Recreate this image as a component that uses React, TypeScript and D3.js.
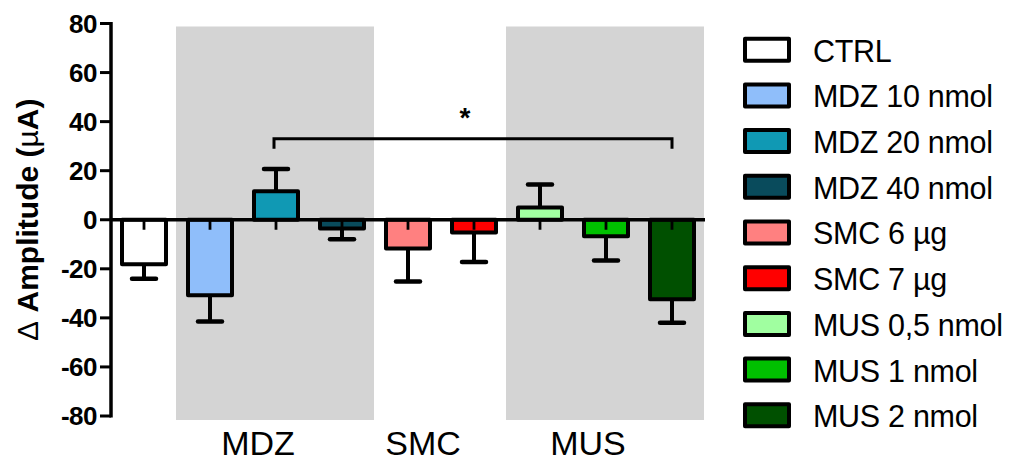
import React from "react";
import * as d3 from "d3";

const treatments = [
  "CTRL",
  "MDZ 10 nmol",
  "MDZ 20 nmol",
  "MDZ 40 nmol",
  "SMC 6 µg",
  "SMC 7 µg",
  "MUS 0,5 nmol",
  "MUS 1 nmol",
  "MUS 2 nmol",
];
const means = [-18.1, -30.8, 11.6, -3.6, -11.7, -5.2, 5.0, -6.7, -32.4];
const sems = [6.0, 10.7, 9.1, 4.3, 13.5, 12.0, 9.4, 9.9, 9.6];
const fills = [
  "#ffffff",
  "#8fbefa",
  "#1099b4",
  "#094b5c",
  "#ff8080",
  "#ff0000",
  "#a0ffa0",
  "#00c000",
  "#005000",
];
const legendLabels = [
  "CTRL",
  "MDZ 10 nmol",
  "MDZ 20 nmol",
  "MDZ 40 nmol",
  "SMC 6 \u00b5g",
  "SMC 7 \u00b5g",
  "MUS 0,5 nmol",
  "MUS 1 nmol",
  "MUS 2 nmol",
];
const groups = [
  { name: "MDZ", first: 1, last: 3, shaded: true },
  { name: "SMC", first: 4, last: 5, shaded: false },
  { name: "MUS", first: 6, last: 8, shaded: true },
];
const yTicks = [80, 60, 40, 20, 0, -20, -40, -60, -80];
const comparison = { from: 2, to: 8, label: "*", level: 33 };

const FONT = "Liberation Sans, Arial, Helvetica, sans-serif";

export default function App() {
  const W = 1016;
  const H = 467;
  const x = d3
    .scaleBand<number>()
    .domain(d3.range(treatments.length))
    .range([111, 705])
    .paddingInner(1 / 3)
    .paddingOuter(1 / 6);
  const y = d3.scaleLinear().domain([-80, 80]).range([416, 23.5]);
  const step = x.step();
  const bw = x.bandwidth();
  const cx = (i: number) => (x(i) as number) + bw / 2;
  const stepStart = (i: number) => 111 + step * i;
  const y0 = y(0);

  const bx1 = cx(comparison.from) - 2;
  const bx2 = cx(comparison.to);
  const by = y(comparison.level);

  return (
    <svg
      width={W}
      height={H}
      style={{ position: "absolute", left: 0, top: 0, background: "#fff" }}
      fontFamily={FONT}
    >
      {/* shaded group backgrounds */}
      {groups
        .filter((g) => g.shaded)
        .map((g) => (
          <rect
            key={g.name}
            x={stepStart(g.first) - 1}
            y={y(80) + 3}
            width={stepStart(g.last + 1) - stepStart(g.first)}
            height={y(-80) - y(80) + 1}
            fill="#d4d4d4"
          />
        ))}

      {/* bars */}
      {means.map((m, i) => {
        const top = Math.min(y(m), y0);
        const h = Math.abs(y(m) - y0);
        return (
          <rect
            key={"bar" + i}
            x={x(i) as number}
            y={top}
            width={bw}
            height={h}
            fill={fills[i]}
            stroke="#000"
            strokeWidth={4}
            strokeLinejoin="round"
          />
        );
      })}

      {/* error bars */}
      {means.map((m, i) => {
        const end = m >= 0 ? m + sems[i] : m - sems[i];
        const c = cx(i);
        return (
          <g key={"err" + i} stroke="#000">
            <line x1={c} x2={c} y1={y(m)} y2={y(end)} strokeWidth={4} />
            <line
              x1={c - 12}
              x2={c + 12}
              y1={y(end)}
              y2={y(end)}
              strokeWidth={4.5}
              strokeLinecap="round"
            />
            <line x1={c} x2={c} y1={y0} y2={y0 + 10} strokeWidth={2.8} />
          </g>
        );
      })}

      {/* zero line */}
      <line x1={111} x2={705} y1={y0} y2={y0} stroke="#000" strokeWidth={3.5} />

      {/* y axis */}
      <line x1={111} x2={111} y1={y(80) - 1.5} y2={y(-80) + 1.5} stroke="#000" strokeWidth={3.5} />
      {yTicks.map((t) => (
        <g key={"t" + t}>
          <line x1={100} x2={111} y1={y(t)} y2={y(t)} stroke="#000" strokeWidth={3} />
          <text
            x={97}
            y={y(t)}
            dy="0.36em"
            textAnchor="end"
            fontSize={26}
            fontWeight="bold"
            fill="#000"
            letterSpacing={-0.5}
          >
            {t}
          </text>
        </g>
      ))}

      {/* y axis title */}
      <text
        transform={`translate(38,${y(0)}) rotate(-90)`}
        textAnchor="middle"
        fontSize={30}
        fontWeight="bold"
        fill="#000"
      >
        <tspan fontWeight="normal">{"\u0394"}</tspan>
        {" Amplitude ("}
        <tspan fontWeight="normal">{"\u00b5"}</tspan>
        {"A)"}
      </text>

      {/* group labels */}
      {groups.map((g) => (
        <text
          key={"gl" + g.name}
          x={(cx(g.first) + cx(g.last)) / 2 - 18}
          y={455}
          textAnchor="middle"
          fontSize={34}
          fill="#000"
        >
          {g.name}
        </text>
      ))}

      {/* significance bracket */}
      <path
        d={`M${bx1},${by + 10}V${by}H${bx2}V${by + 10}`}
        fill="none"
        stroke="#000"
        strokeWidth={3}
      />
      <text
        x={(bx1 + bx2) / 2 - 8}
        y={by - 12}
        textAnchor="middle"
        fontSize={28}
        fontWeight="bold"
        fill="#000"
      >
        {comparison.label}
      </text>

      {/* legend */}
      {legendLabels.map((lab, i) => {
        const cy = 49.7 + 45.7 * i;
        return (
          <g key={"lg" + i}>
            <rect
              x={745}
              y={cy - 11}
              width={44}
              height={22}
              fill={fills[i]}
              stroke="#000"
              strokeWidth={4}
              strokeLinejoin="round"
            />
            <text x={813} y={cy + 1} dy="0.36em" fontSize={30.5} fill="#000" letterSpacing={-0.3}>
              {lab}
            </text>
          </g>
        );
      })}
    </svg>
  );
}
